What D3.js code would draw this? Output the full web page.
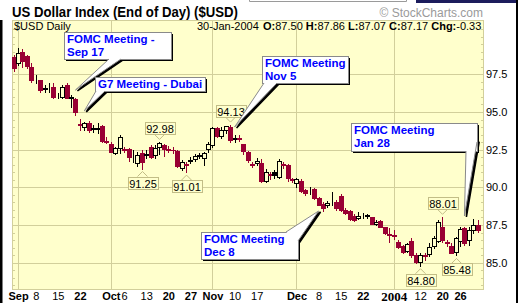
<!DOCTYPE html>
<html>
<head>
<meta charset="utf-8">
<script src="https://cdn.jsdelivr.net/npm/d3@7"></script>
<style>
  body { margin: 0; background: #fff; }
  svg { display: block; font-family: "Liberation Sans", Arial, sans-serif; }
</style>
</head>
<body>
<script>
// trading days, Aug 29 2003 .. Jan 30 2004
var dates = [
  '2003-08-29',
  '2003-09-02','2003-09-03','2003-09-04','2003-09-05','2003-09-08','2003-09-09','2003-09-10','2003-09-11','2003-09-12',
  '2003-09-15','2003-09-16','2003-09-17','2003-09-18','2003-09-19','2003-09-22','2003-09-23','2003-09-24','2003-09-25',
  '2003-09-26','2003-09-29','2003-09-30',
  '2003-10-01','2003-10-02','2003-10-03','2003-10-06','2003-10-07','2003-10-08','2003-10-09','2003-10-10','2003-10-13',
  '2003-10-14','2003-10-15','2003-10-16','2003-10-17','2003-10-20','2003-10-21','2003-10-22','2003-10-23','2003-10-24',
  '2003-10-27','2003-10-28','2003-10-29','2003-10-30','2003-10-31',
  '2003-11-03','2003-11-04','2003-11-05','2003-11-06','2003-11-07','2003-11-10','2003-11-11','2003-11-12','2003-11-13',
  '2003-11-14','2003-11-17','2003-11-18','2003-11-19','2003-11-20','2003-11-21','2003-11-24','2003-11-25','2003-11-26',
  '2003-11-28',
  '2003-12-01','2003-12-02','2003-12-03','2003-12-04','2003-12-05','2003-12-08','2003-12-09','2003-12-10','2003-12-11',
  '2003-12-12','2003-12-15','2003-12-16','2003-12-17','2003-12-18','2003-12-19','2003-12-22','2003-12-23','2003-12-24',
  '2003-12-26','2003-12-29','2003-12-30','2003-12-31',
  '2004-01-02','2004-01-05','2004-01-06','2004-01-07','2004-01-08','2004-01-09','2004-01-12','2004-01-13','2004-01-14',
  '2004-01-15','2004-01-16','2004-01-20','2004-01-21','2004-01-22','2004-01-23','2004-01-26','2004-01-27','2004-01-28',
  '2004-01-29','2004-01-30'
];

var openP = [
  98.65,
  98.23,99.00,98.70,98.00,97.30,97.12,96.55,96.58,96.68,96.10,96.02,96.79,95.95,95.86,94.18,94.02,94.25,93.88,93.90,94.07,93.05,
  92.86,92.26,92.59,92.52,92.53,92.05,91.60,92.26,92.15,92.70,92.15,92.66,92.81,92.55,92.50,92.41,91.30,91.55,91.78,91.88,92.10,91.97,92.52,
  92.81,93.92,93.43,93.81,94.02,93.20,93.30,92.86,92.33,91.52,91.60,91.64,90.44,90.86,91.00,90.71,91.52,91.48,90.55,
  90.30,90.40,89.82,89.80,89.87,89.27,88.90,88.83,89.08,89.05,89.45,88.50,88.45,88.10,87.95,88.10,88.12,88.00,87.55,87.75,87.35,86.88,
  86.82,86.40,86.10,85.80,86.46,85.51,85.07,85.50,85.58,86.11,86.46,87.39,86.38,86.11,85.73,86.46,87.28,86.50,87.14,87.50
];
var highP = [
  98.80,
  99.23,99.15,98.80,98.23,97.46,97.15,96.80,96.90,96.90,96.25,96.79,96.90,96.13,95.91,94.54,94.33,94.40,94.14,94.27,94.14,93.36,
  93.03,92.70,93.47,92.68,92.63,92.48,92.37,92.48,92.48,92.81,92.80,92.98,92.90,92.75,92.70,92.48,91.81,91.70,92.03,92.20,92.30,92.37,93.03,
  94.02,93.98,94.02,94.10,94.13,93.47,93.45,92.90,92.40,91.65,91.95,91.90,91.20,91.05,91.15,91.90,91.70,91.55,90.65,
  90.60,90.55,89.90,90.05,89.95,89.35,89.00,89.10,89.71,89.15,89.56,88.60,88.50,88.20,88.35,88.30,88.25,88.05,87.80,87.80,87.40,87.30,
  87.20,86.50,86.17,86.33,86.62,85.62,85.62,85.66,86.30,86.77,87.85,88.01,86.50,86.29,86.73,87.35,87.39,87.39,87.88,87.86
];
var lowP = [
  97.75,
  98.12,98.00,97.95,97.00,96.90,96.30,96.30,96.35,95.91,95.93,95.93,95.90,95.35,94.80,93.81,93.81,93.70,93.70,93.59,93.03,92.92,
  92.33,92.20,92.26,92.35,91.75,91.70,91.40,91.25,91.93,91.93,91.95,92.20,92.10,92.35,92.30,91.37,91.15,91.01,91.60,91.75,91.95,91.48,92.37,
  92.70,93.36,93.25,93.60,93.03,93.03,93.10,92.20,91.70,91.35,91.45,90.35,90.35,90.55,90.60,90.60,91.30,90.45,90.35,
  90.05,89.70,89.50,89.55,89.20,88.80,88.45,88.70,88.83,88.50,88.45,88.20,87.80,87.75,87.90,87.95,87.95,87.55,87.50,87.35,86.90,86.37,
  86.60,85.95,85.62,85.73,85.40,84.96,84.80,85.18,85.45,86.00,86.37,86.40,86.10,85.62,85.48,86.13,86.17,86.20,86.97,87.07
];
var closeP = [
  97.95,
  98.90,98.35,98.05,97.12,97.35,96.46,96.58,96.60,96.02,96.13,96.68,95.95,95.98,95.02,94.12,94.25,93.81,93.92,93.95,93.08,93.00,
  92.37,92.59,93.36,92.48,92.00,92.10,92.15,91.70,92.19,92.00,92.59,92.92,92.55,92.50,92.45,91.44,91.70,91.50,91.82,92.08,92.12,92.26,92.86,
  93.92,93.43,93.81,94.09,93.14,93.25,93.20,92.41,91.81,91.48,91.75,90.44,91.04,90.82,90.85,91.77,91.48,90.60,90.50,
  90.55,89.76,89.62,89.85,89.27,88.83,88.61,88.98,89.11,88.60,88.50,88.28,87.88,87.80,88.10,88.12,88.14,87.60,87.70,87.40,87.00,86.84,
  86.78,86.02,85.73,86.24,85.51,85.07,85.51,85.45,86.06,86.62,87.72,86.51,86.33,85.66,86.62,87.22,86.29,87.17,87.50,87.17
];

var priceTicks = [85, 87.5, 90, 92.5, 95, 97.5];
var monthStarts = ['2003-09-02', '2003-10-01', '2003-11-03', '2003-12-01', '2004-01-02'];
var dayLabels = [
  ['2003-09-02', 'Sep'], ['2003-09-08', '8'], ['2003-09-15', '15'], ['2003-09-22', '22'],
  ['2003-10-01', 'Oct'], ['2003-10-06', '6'], ['2003-10-13', '13'], ['2003-10-20', '20'], ['2003-10-27', '27'],
  ['2003-11-03', 'Nov'], ['2003-11-10', '10'], ['2003-11-17', '17'],
  ['2003-12-01', 'Dec'], ['2003-12-08', '8'], ['2003-12-15', '15'], ['2003-12-22', '22'],
  ['2004-01-02', '2004'], ['2004-01-12', '12'], ['2004-01-20', '20'], ['2004-01-26', '26']
];
// labelled highs / lows
var extremeDays   = ['2003-10-16', '2003-10-10', '2003-10-24', '2003-11-07', '2004-01-20', '2004-01-12', '2004-01-23'];
var extremeValues = [92.98, 91.25, 91.01, 94.13, 88.01, 84.80, 85.48];
var extremeSides  = ['high', 'low', 'low', 'high', 'high', 'low', 'low'];

// callouts: text + the bar they point at
var noteLines  = [['FOMC Meeting -', 'Sep 17'], ['G7 Meeting - Dubai'], ['FOMC Meeting', 'Nov 5'], ['FOMC Meeting', 'Dec 8'], ['FOMC Meeting', 'Jan 28']];
var noteDays   = ['2003-09-19', '2003-09-23', '2003-11-10', '2003-12-08', '2004-01-27'];
var notePrices = [96.46, 95.07, 94.0, 88.43, 88.1];
// layout of the callout boxes (x, y, w, h) and the base of their tails
var noteBoxes = [[64, 32, 107, 27], [95, 77, 110, 14], [262, 56, 86, 27], [201, 232, 97, 27], [351, 123, 126, 28]];
var noteBases = [[[109, 59], [121, 59]], [[96, 91], [105, 91]], [[264, 83], [277, 83]], [[286, 232], [298, 241]], [[466, 151], [477, 142]]];

var maroon = '#990033',
    paper  = '#ffffcc',
    grid   = '#d2cf9b';

var svgWidth = 518, svgHeight = 303,
    plot = { left: 12, right: 484, top: 20, bottom: 290 };

var svg = d3.select('body').append('svg')
  .attr('width', svgWidth)
  .attr('height', svgHeight);

var x = d3.scaleLinear().domain([0, dates.length - 1]).range([13.6, 477.7]);
var y = d3.scaleLinear().domain([85, 97.5]).range([262.7, 74.3]);
function xd (day) { return x(dates.indexOf(day)); }

// page bits around the chart
svg.append('rect').attr('x', 0).attr('y', 20).attr('width', 2.5).attr('height', 283).attr('fill', '#000');
svg.append('rect').attr('x', 516).attr('y', 0).attr('width', 2).attr('height', 303).attr('fill', '#000');
svg.append('rect').attr('x', 416).attr('y', 0).attr('width', 100).attr('height', 3).attr('fill', '#1c1c5c');
svg.append('path').attr('d', 'M249.5,0V1.5H406.5V0').attr('fill', 'none').attr('stroke', '#9a9a9a');

svg.append('text')
  .attr('x', 12).attr('y', 17)
  .attr('textLength', 226).attr('lengthAdjust', 'spacingAndGlyphs')
  .style('font-size', '14px').style('font-weight', 'bold')
  .text('US Dollar Index (End of Day) ($USD)');

svg.append('text')
  .attr('x', 483).attr('y', 17)
  .style('font-size', '12px').style('fill', '#9a9a9a').style('text-anchor', 'end')
  .text('\u00a9 StockCharts.com');

// plot background and grid
svg.append('rect')
  .attr('x', plot.left + 0.5).attr('y', plot.top + 0.5)
  .attr('width', plot.right - plot.left - 1).attr('height', plot.bottom - plot.top - 1)
  .attr('fill', paper).attr('stroke', grid);

var gridG = svg.append('g').attr('stroke', grid).attr('shape-rendering', 'crispEdges');
gridG.selectAll('line.h').data(priceTicks).enter().append('line')
  .attr('class', 'h')
  .attr('x1', plot.left).attr('x2', plot.right)
  .attr('y1', function (d) { return Math.round(y(d)) + 0.5; })
  .attr('y2', function (d) { return Math.round(y(d)) + 0.5; });
gridG.selectAll('line.v').data(monthStarts).enter().append('line')
  .attr('class', 'v')
  .attr('y1', plot.top).attr('y2', plot.bottom)
  .attr('x1', function (d) { return Math.round(xd(d)) + 0.5; })
  .attr('x2', function (d) { return Math.round(xd(d)) + 0.5; });

var minor = d3.range(83.5, 101.01, 0.5).filter(function (d) {
  return y(d) > plot.top + 2 && y(d) < plot.bottom - 2;
});
gridG.selectAll('line.ml').data(minor).enter().append('line')
  .attr('x1', plot.left).attr('x2', plot.left + 3)
  .attr('y1', function (d) { return Math.round(y(d)) + 0.5; })
  .attr('y2', function (d) { return Math.round(y(d)) + 0.5; });
gridG.selectAll('line.mr').data(minor).enter().append('line')
  .attr('x1', plot.right - 3).attr('x2', plot.right)
  .attr('y1', function (d) { return Math.round(y(d)) + 0.5; })
  .attr('y2', function (d) { return Math.round(y(d)) + 0.5; });

// axes
var yAxis = d3.axisRight(y).tickValues(priceTicks).tickFormat(d3.format('.1f')).tickSize(0).tickPadding(2);
var yG = svg.append('g').attr('transform', 'translate(' + plot.right + ',0)').call(yAxis);
yG.select('.domain').remove();
yG.selectAll('text').style('font-size', '11px').style('font-family', '"Liberation Sans", Arial, sans-serif');

var labelIdx = dayLabels.map(function (d) { return dates.indexOf(d[0]); });
var xAxis = d3.axisBottom(x).tickValues(labelIdx)
  .tickFormat(function (d, i) { return dayLabels[i][1]; })
  .tickSize(0).tickPadding(2);
var xG = svg.append('g').attr('transform', 'translate(0,' + plot.bottom + ')').call(xAxis);
xG.select('.domain').remove();
xG.selectAll('text')
  .style('font-family', function (d, i) { return dayLabels[i][1] === '2004' ? '"Liberation Serif", serif' : '"Liberation Sans", Arial, sans-serif'; })
  .style('font-size', function (d, i) { return dayLabels[i][1] === '2004' ? '13px' : '11px'; })
  .style('font-weight', function (d, i) { return /^[A-Z2]/.test(dayLabels[i][1]) ? 'bold' : 'normal'; })
  .style('fill', '#000');

// header inside the plot
svg.append('text').attr('x', 14).attr('y', 30).style('font-size', '11px').text('$USD Daily');
svg.append('text').attr('x', 197).attr('y', 30).style('font-size', '11px').text('30-Jan-2004');
var ohlc = svg.append('text').attr('x', 263).attr('y', 30).style('font-size', '11px');
[['O:', '87.50 '], ['H:', '87.86 '], ['L:', '87.07 '], ['C:', '87.17 '], ['Chg:', '-0.33']].forEach(function (p) {
  ohlc.append('tspan').style('font-weight', 'bold').text(p[0]);
  ohlc.append('tspan').text(p[1]);
});

// candles
var bars = dates.map(function (d, i) {
  return { i: i, o: openP[i], h: highP[i], l: lowP[i], c: closeP[i], pc: i > 0 ? closeP[i - 1] : Infinity };
});
var candles = svg.append('g').attr('shape-rendering', 'crispEdges');
bars.forEach(function (b) {
  var px = Math.round(x(b.i));
  var col = b.c < b.pc ? maroon : '#000';
  var yTop = Math.round(y(Math.max(b.o, b.c))),
      yBot = Math.round(y(Math.min(b.o, b.c)));
  candles.append('line')
    .attr('x1', px + 0.5).attr('x2', px + 0.5)
    .attr('y1', Math.round(y(b.h))).attr('y2', Math.round(y(b.l)) + 1)
    .attr('stroke', col);
  if (b.c < b.o) {
    candles.append('rect')
      .attr('x', px - 2).attr('width', 5)
      .attr('y', yTop).attr('height', Math.max(1, yBot - yTop + 1))
      .attr('fill', col);
  } else {
    candles.append('rect')
      .attr('x', px - 1.5).attr('width', 4)
      .attr('y', yTop + 0.5).attr('height', Math.max(0, yBot - yTop))
      .attr('fill', paper).attr('stroke', col);
  }
});

// labelled highs and lows
var ext = svg.append('g');
extremeDays.forEach(function (day, k) {
  var cx = Math.round(xd(day)) + 0.5,
      vy = y(extremeValues[k]),
      bw = 30, bh = 12,
      top = extremeSides[k] === 'high' ? vy - 8 - bh : vy + 8,
      edge = extremeSides[k] === 'high' ? top + bh : top,
      tip = extremeSides[k] === 'high' ? edge + 5 : edge - 5;
  ext.append('path')
    .attr('d', 'M' + (cx - 5) + ',' + edge + 'L' + cx + ',' + tip + 'L' + (cx + 5) + ',' + edge)
    .attr('fill', 'none').attr('stroke', '#c2bd86');
  ext.append('rect')
    .attr('x', Math.round(cx - bw / 2) + 0.5).attr('y', Math.round(top) + 0.5)
    .attr('width', bw).attr('height', bh)
    .attr('fill', paper).attr('stroke', '#c2bd86');
  ext.append('text')
    .attr('x', cx + 0.5).attr('y', Math.round(top) + 10.5)
    .style('font-size', '11px').style('text-anchor', 'middle')
    .text(d3.format('.2f')(extremeValues[k]));
});

// callouts
var notes = svg.append('g');
noteLines.forEach(function (lines, k) {
  var bx = noteBoxes[k], base = noteBases[k],
      tip = [xd(noteDays[k]), y(notePrices[k])];
  var tail = 'M' + base[0] + 'L' + tip + 'L' + base[1];
  notes.append('rect')
    .attr('x', bx[0] + 2).attr('y', bx[1] + 2).attr('width', bx[2]).attr('height', bx[3])
    .attr('fill', '#000');
  notes.append('path')
    .attr('d', tail + 'Z').attr('transform', 'translate(2,1)')
    .attr('fill', '#000').attr('stroke', '#000').attr('stroke-width', 1.5);
  notes.append('rect')
    .attr('x', bx[0] + 0.5).attr('y', bx[1] + 0.5).attr('width', bx[2]).attr('height', bx[3])
    .attr('fill', '#fff').attr('stroke', '#8a8a8a');
  notes.append('path')
    .attr('d', tail)
    .attr('fill', '#fff').attr('stroke', '#8a8a8a');
  lines.forEach(function (t, j) {
    notes.append('text')
      .attr('x', bx[0] + 3).attr('y', bx[1] + (lines.length > 1 ? 11 + 12.5 * j : 11))
      .style('font-size', '11.5px').style('font-weight', 'bold').style('fill', '#0000ff')
      .text(t);
  });
});
</script>
</body>
</html>
